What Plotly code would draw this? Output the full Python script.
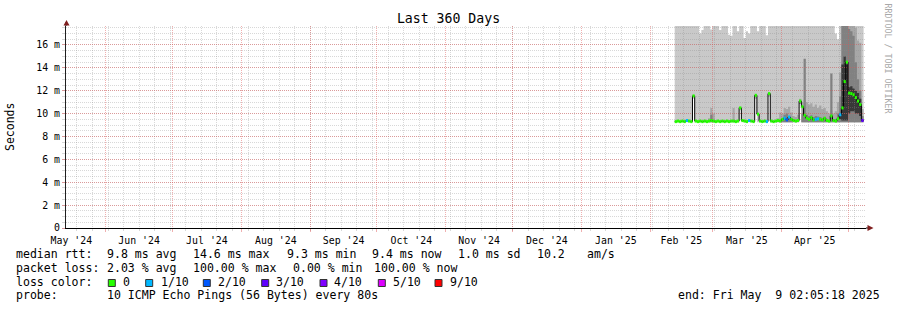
import pandas as pd
import numpy as np
import plotly.graph_objects as go

# ---------------- data ----------------
TITLE = "Last 360 Days"
RANGE_START = "2024-05-14 02:05:18"
RANGE_END = "2025-05-09 02:05:18"
DAYS = pd.date_range("2025-02-12", periods=86, freq="D")

MEDIAN_MS = [
    9.3, 9.35, 9.3, 9.35, 9.3, 9.4, 9.35, 9.3, 11.55, 9.35,
    9.3, 9.35, 9.3, 9.35, 9.3, 9.35, 9.4, 9.35, 9.3, 9.35,
    9.3, 9.35, 9.3, 9.35, 9.3, 9.35, 9.35, 9.3, 9.35, 10.5,
    9.4, 9.35, 9.3, 9.4, 9.35, 9.3, 11.6, 9.95, 9.35, 9.3,
    9.35, 9.3, 11.75, 9.35, 9.3, 9.35, 9.4, 9.35, 9.5, 9.6,
    9.45, 9.7, 9.5, 9.4, 9.35, 9.4, 11.1, 10.6, 9.85, 9.6,
    9.5, 9.65, 9.45, 9.5, 9.55, 9.5, 9.45, 9.6, 9.4, 9.35,
    9.8, 9.4, 9.35, 9.55, 9.9, 10.5, 12.8, 14.5, 11.8, 11.75,
    11.65, 11.4, 11.1, 10.8, 9.4, 9.4,
]
LOSS = [
    0, 0, 0, 0, 0, 1, 0, 0, 0, 0,
    0, 0, 0, 0, 0, 0, 0, 0, 0, 0,
    0, 0, 0, 0, 0, 0, 0, 0, 0, 0,
    0, 0, 0, 1, 0, 0, 0, 0, 0, 0,
    0, 1, 0, 0, 0, 0, 0, 0, 0, 1,
    2, 1, 0, 0, 0, 0, 0, 0, 0, 0,
    0, 0, 0, 1, 1, 0, 0, 0, 0, 0,
    0, 0, 0, 0, 1, 0, 0, 0, 0, 0,
    0, 0, 0, 0, 3, 3,
]
SMOKE_LO = [
    9.25, 9.25, 9.25, 9.25, 9.25, 9.25, 9.25, 9.25, 11.3, 9.25,
    9.25, 9.25, 9.25, 9.25, 9.25, 9.25, 9.25, 9.25, 9.25, 9.25,
    9.25, 9.25, 9.25, 9.25, 9.25, 9.25, 9.25, 9.25, 9.25, 10.3,
    9.25, 9.25, 9.25, 9.25, 9.25, 9.25, 11.3, 9.25, 9.25, 9.25,
    9.25, 9.25, 11.5, 9.25, 9.25, 9.25, 9.25, 9.25, 9.25, 9.25,
    9.25, 9.25, 9.25, 9.25, 9.25, 9.25, 10.85, 9.25, 9.25, 9.25,
    9.25, 9.25, 9.25, 9.25, 9.25, 9.25, 9.25, 9.25, 9.25, 9.25,
    9.25, 9.25, 9.25, 9.25, 9.25, 9.25, 9.25, 9.25, 9.25, 9.25,
    9.25, 9.25, 9.25, 9.25, 9.25, 9.25,
]
SMOKE_HI = [
    20, 20, 20, 20, 20, 20, 20, 20, 20, 20,
    20, 17.0, 17.3, 20, 20, 20, 17.35, 20, 20, 20,
    17.3, 20, 20, 20, 16.9, 16.8, 20, 20, 17.2, 20,
    20, 16.6, 17.2, 17.0, 20, 20, 20, 17.2, 20, 20,
    20, 16.85, 20, 20, 20, 20, 20, 20, 20, 20,
    20, 20, 20, 20, 20, 20, 20, 20, 20, 20,
    20, 20, 20, 20, 20, 20, 20, 20, 20, 20,
    20, 20, 17.0, 16.5, 20, 20, 20, 20, 20, 20,
    20, 20, 20, 20, 20, 20,
]
BAND2_HI = [
    9.25, 9.25, 9.25, 9.25, 9.25, 9.25, 9.25, 9.25, 9.25, 9.25,
    9.25, 9.25, 9.25, 9.25, 9.25, 9.6, 10.5, 10.0, 9.25, 9.25,
    9.25, 9.25, 9.25, 9.25, 9.25, 9.25, 10.5, 9.25, 9.25, 9.25,
    9.25, 9.25, 9.25, 9.25, 9.25, 9.25, 9.25, 9.25, 9.25, 9.25,
    9.25, 9.25, 9.25, 9.25, 9.25, 9.25, 9.6, 10.1, 10.0, 10.5,
    10.4, 10.6, 10.1, 9.8, 9.7, 9.9, 11.3, 11.0, 11.2, 11.0,
    10.8, 10.9, 10.6, 10.8, 10.5, 10.7, 10.4, 10.5, 10.2, 10.0,
    10.3, 10.0, 10.2, 11.0, 13.6, 20, 20, 20, 20, 20,
    20, 17.5, 16.4, 16.2, 10.4, 10.4,
]
BAND3_HI = [
    9.25, 9.25, 9.25, 9.25, 9.25, 9.25, 9.25, 9.25, 9.25, 9.25,
    9.25, 9.25, 9.25, 9.25, 9.25, 9.25, 9.9, 9.25, 9.25, 9.25,
    9.25, 9.25, 9.25, 9.25, 9.25, 9.25, 9.25, 9.25, 9.25, 9.25,
    9.25, 9.25, 9.25, 9.25, 9.25, 9.25, 9.25, 9.25, 9.25, 9.25,
    9.25, 9.25, 9.25, 9.25, 9.25, 9.25, 9.25, 9.25, 9.6, 9.9,
    10.0, 9.8, 9.6, 9.25, 9.25, 9.25, 9.25, 10.0, 14.8, 9.9,
    9.8, 9.85, 9.7, 9.8, 9.75, 9.7, 9.6, 9.7, 9.5, 9.4,
    13.5, 9.5, 9.5, 10.0, 11.5, 20, 20, 20, 17.4, 17.2,
    16.8, 14.5, 13.0, 12.0, 9.8, 9.8,
]
DARK_LO = [9.25] * 74 + [9.5, 9.4, 9.4, 9.4, 10.0, 10.2, 10.2, 10.0, 10.0, 9.8, 9.25, 9.25]
DARK_HI = [9.25] * 74 + [10.0, 14.3, 15.0, 14.3, 12.3, 12.4, 12.2, 12.0, 11.8, 11.3, 9.25, 9.25]

Y_TICKS = [0, 2, 4, 6, 8, 10, 12, 14, 16]
Y_LABELS = ["0", "2 m", "4 m", "6 m", "8 m", "10 m", "12 m", "14 m", "16 m"]
Y_MAX = 17.66

LOSS_LEVELS = [0, 1, 2, 3, 4, 5, 9]
LOSS_LABELS = ["0", "1/10", "2/10", "3/10", "4/10", "5/10", "9/10"]
LOSS_COLORS = ["#26ff00", "#00b8ff", "#0059ff", "#5e00ff", "#7e00ff", "#dd00ff", "#ff0000"]

LEGEND_MEDIAN = ["median rtt:", "9.8 ms avg", "14.6 ms max", "9.3 ms min", "9.4 ms now",
                 "1.0 ms sd", "10.2", "am/s"]
LEGEND_LOSS = ["packet loss:", "2.03 % avg", "100.00 % max", "0.00 % min", "100.00 % now"]
PROBE_TEXT = ["probe:", "10 ICMP Echo Pings (56 Bytes) every 80s"]
END_TEXT = "end: Fri May  9 02:05:18 2025"
Y_TITLE = "Seconds"
WATERMARK = "RRDTOOL / TOBI OETIKER"

# ---------------- style / layout ----------------
W, H = 897, 310
ML, MR, MT, MB = 66, 31, 26, 82
PW, PH = W - ML - MR, H - MT - MB
MONO = "DejaVu Sans Mono"
GRID_MINOR = "rgba(140,140,140,0.34)"
GRID_MAJOR = "rgba(222,79,79,0.45)"
AXIS_COL = "#1f1f1f"
ARROW_COL = "#801f1f"
SMOKE_COLORS = ["#c9c9c9", "#a7a7a7", "#818181", "#383838"]
Y_MINOR_STEP = 0.5
WEEK_MS = 7 * 86400000


def xp(px):
    return (px - ML) / PW


def yp(py):
    return (H - MB - py) / PH


fig = go.Figure()


def band(lo, hi, color):
    lo = np.asarray(lo, float)
    hi = np.maximum(np.asarray(hi, float), lo)
    fig.add_trace(go.Scatter(x=DAYS, y=lo, mode="lines", line=dict(width=0, shape="hv"),
                             hoverinfo="skip", showlegend=False))
    fig.add_trace(go.Scatter(x=DAYS, y=hi, mode="lines", line=dict(width=0, shape="hv"),
                             fill="tonexty", fillcolor=color, hoverinfo="skip", showlegend=False))


# subplot xy: smoke (under the grid)
band(SMOKE_LO, SMOKE_HI, SMOKE_COLORS[0])
band(SMOKE_LO, BAND2_HI, SMOKE_COLORS[1])
band(SMOKE_LO, BAND3_HI, SMOKE_COLORS[2])
band(DARK_LO, DARK_HI, SMOKE_COLORS[3])

# subplots x2y2 (minor grid) and x3y3 (major grid + labels): empty hosts
fig.add_trace(go.Scatter(x=[], y=[], xaxis="x2", yaxis="y2", showlegend=False))
fig.add_trace(go.Scatter(x=[], y=[], xaxis="x3", yaxis="y3", showlegend=False))

# subplot x4y4: median line on top
fig.add_trace(go.Scatter(x=DAYS, y=MEDIAN_MS, mode="lines", xaxis="x4", yaxis="y4",
                         line=dict(color="#000000", width=1, shape="hv"),
                         hoverinfo="skip", showlegend=False))


def loss_class(l):
    k = 0
    for i, lev in enumerate(LOSS_LEVELS):
        if l >= lev:
            k = i
    return k


for k, col in enumerate(LOSS_COLORS):
    xs, ys = [], []
    for i in range(len(DAYS) - 1):
        if loss_class(LOSS[i]) == k:
            xs += [DAYS[i], DAYS[i + 1], None]
            ys += [MEDIAN_MS[i], MEDIAN_MS[i], None]
    if xs:
        fig.add_trace(go.Scatter(x=xs, y=ys, mode="lines", xaxis="x4", yaxis="y4",
                                 line=dict(color=col, width=3),
                                 hoverinfo="skip", showlegend=False))

tickfont = dict(family=MONO, size=9.9, color="#000000")
hidden_x = dict(type="date", range=[RANGE_START, RANGE_END], visible=False, domain=[0, 1],
                fixedrange=True)
hidden_y = dict(range=[0, Y_MAX], visible=False, domain=[0, 1], fixedrange=True)
minor_y_vals = list(np.arange(0, Y_MAX, Y_MINOR_STEP))

fig.update_layout(
    width=W, height=H,
    margin=dict(l=ML, r=MR, t=MT, b=MB, pad=0),
    paper_bgcolor="#ffffff", plot_bgcolor="rgba(0,0,0,0)",
    showlegend=False,
    font=dict(family=MONO, size=10, color="#000000"),
    title=dict(text=TITLE, x=0.5, xref="container", xanchor="center",
               y=1 - 18.5 / H, yref="container", yanchor="middle",
               font=dict(family=MONO, size=13.2, color="#000000")),
    xaxis=dict(hidden_x, anchor="y"),
    yaxis=dict(hidden_y, anchor="x"),
    xaxis4=dict(hidden_x, anchor="y4"),
    yaxis4=dict(hidden_y, anchor="x4"),
    # minor grid (weekly / 0.5 ms)
    xaxis2=dict(type="date", range=[RANGE_START, RANGE_END], anchor="y2", domain=[0, 1],
                tick0="2024-05-19", dtick=WEEK_MS, showticklabels=False,
                showgrid=True, gridcolor=GRID_MINOR, griddash="1px,1px", gridwidth=1,
                ticks="outside", ticklen=2, tickcolor=GRID_MINOR,
                showline=False, zeroline=False, fixedrange=True),
    yaxis2=dict(range=[0, Y_MAX], anchor="x2", domain=[0, 1],
                tickmode="array", tickvals=minor_y_vals, showticklabels=False,
                showgrid=True, gridcolor=GRID_MINOR, griddash="1px,1px", gridwidth=1,
                ticks="outside", ticklen=3, tickcolor=GRID_MINOR,
                showline=False, zeroline=False, fixedrange=True),
    # major grid (months / 2 ms) with labels
    xaxis3=dict(type="date", range=[RANGE_START, RANGE_END], anchor="y3", domain=[0, 1],
                dtick="M1", tick0="2024-05-01", tickformat="%b '%y", ticklabelmode="period",
                showgrid=True, gridcolor=GRID_MAJOR, griddash="1px,1px", gridwidth=1,
                ticks="outside", ticklen=3, tickcolor=GRID_MAJOR, tickfont=tickfont,
                showline=True, linecolor="#000000", linewidth=1, zeroline=False,
                fixedrange=True),
    yaxis3=dict(range=[0, Y_MAX], anchor="x3", domain=[0, 1],
                tickmode="array", tickvals=Y_TICKS, ticktext=Y_LABELS, tickfont=tickfont,
                showgrid=True, gridcolor=GRID_MAJOR, griddash="1px,1px", gridwidth=1,
                ticks="outside", ticklen=3, tickcolor=GRID_MAJOR,
                showline=True, linecolor=AXIS_COL, linewidth=1, zeroline=False,
                fixedrange=True),
)

shapes = []
# axis extensions and arrows
shapes.append(dict(type="line", xref="paper", yref="paper", x0=0, x1=0, y0=1, y1=yp(22),
                   line=dict(color=AXIS_COL, width=1)))
shapes.append(dict(type="path", xref="paper", yref="paper",
                   path=f"M {xp(63.5)} {yp(25.5)} L {xp(69.5)} {yp(25.5)} L {xp(66.5)} {yp(20)} Z",
                   fillcolor=ARROW_COL, line=dict(width=0)))
shapes.append(dict(type="line", xref="paper", yref="paper", x0=1, x1=xp(868), y0=0, y1=0,
                   line=dict(color="#000000", width=1)))
shapes.append(dict(type="path", xref="paper", yref="paper",
                   path=f"M {xp(867.5)} {yp(225)} L {xp(867.5)} {yp(231)} L {xp(873.5)} {yp(228)} Z",
                   fillcolor=ARROW_COL, line=dict(width=0)))

ann = []
LEG_FONT = dict(family=MONO, size=11.55, color="#000000")


def text(px, py, s, **kw):
    d = dict(xref="paper", yref="paper", x=xp(px), y=yp(py), text=s.replace(" ", "\u00a0"),
             showarrow=False, xanchor="left", yanchor="middle", font=LEG_FONT,
             borderpad=0, borderwidth=0)
    d.update(kw)
    ann.append(d)


MEDIAN_X = [16, 107.3, 193.3, 286.7, 372.3, 458.3, 537.3, 586.7]
LOSS_X = [16, 107.3, 193.3, 292.7, 374.3]
for px, s in zip(MEDIAN_X, LEGEND_MEDIAN):
    text(px, 254.3, s)
for px, s in zip(LOSS_X, LEGEND_LOSS):
    text(px, 267.9, s)
text(16, 281.6, "loss color:")
BOX_X = [108.3, 145.7, 203.3, 261.7, 320, 378.3, 435]
LABEL_X = [123.3, 160.7, 218.3, 276, 334.3, 392.7, 450]
for bx, lx, lab, col in zip(BOX_X, LABEL_X, LOSS_LABELS, LOSS_COLORS):
    shapes.append(dict(type="rect", xref="paper", yref="paper",
                       x0=xp(bx), x1=xp(bx + 7), y0=yp(286.5), y1=yp(279.5),
                       fillcolor=col, line=dict(color="#333333", width=1)))
    text(lx, 281.6, lab)
text(16, 295.3, PROBE_TEXT[0])
text(107.3, 295.3, PROBE_TEXT[1])
text(678.3, 295.3, END_TEXT)

# y-axis title and watermark
ann.append(dict(xref="paper", yref="paper", x=xp(10), y=yp(127), text=Y_TITLE,
                textangle=-90, showarrow=False, xanchor="center", yanchor="middle",
                font=dict(family=MONO, size=11.5, color="#000000")))
ann.append(dict(xref="paper", yref="paper", x=xp(887.5), y=yp(58),
                text=WATERMARK.replace(" ", "\u00a0"),
                textangle=90, showarrow=False, xanchor="center", yanchor="middle",
                font=dict(family=MONO, size=8.3, color="#a8a8a8")))

fig.update_layout(shapes=shapes, annotations=ann)
fig.write_html("out.html")
